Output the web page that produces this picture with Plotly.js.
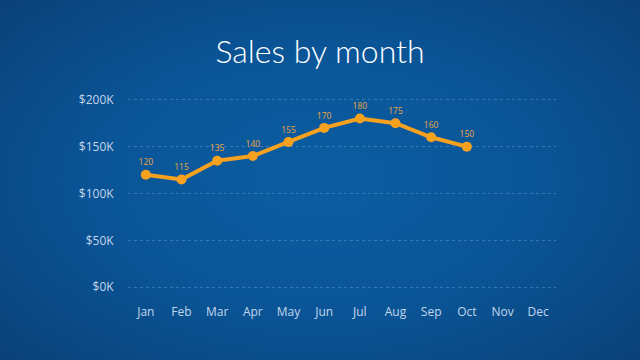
<!DOCTYPE html>
<html>
<head>
<meta charset="utf-8">
<script src="https://cdn.plot.ly/plotly-3.0.1.min.js"></script>
<style>
html,body{margin:0;padding:0;width:640px;height:360px;overflow:hidden;}
body{background: radial-gradient(ellipse 75% 80% at 50% 50%, #0b5da2 0%, #0a5597 45%, #0a4680 80%, #0a3c72 100%);}
#chart{width:640px;height:360px;}
</style>
</head>
<body>
<div id="chart"></div>
<script>
var months = ['Jan','Feb','Mar','Apr','May','Jun','Jul','Aug','Sep','Oct','Nov','Dec'];
var salesMonths = ['Jan','Feb','Mar','Apr','May','Jun','Jul','Aug','Sep','Oct'];
var salesK = [120,115,135,140,155,170,180,175,160,150];
var yTickVals = [0,50000,100000,150000,200000];
var yTickText = ['$0K','$50K','$100K','$150K','$200K'];

var trace = {
  x: salesMonths,
  y: salesK.map(function(v){return v*1000;}),
  text: salesK.map(String),
  type: 'scatter',
  mode: 'lines+markers+text',
  textposition: 'top center',
  textfont: {family: 'Open Sans, sans-serif', size: 8.5, color: '#eea640'},
  line: {color: '#f7a11f', width: 4},
  marker: {color: '#f7a11f', size: 10},
  cliponaxis: false,
  hoverinfo: 'none'
};

var layout = {
  width: 640, height: 360,
  paper_bgcolor: 'rgba(0,0,0,0)',
  plot_bgcolor: 'rgba(0,0,0,0)',
  margin: {l: 128, r: 84, t: 96, b: 69},
  showlegend: false,
  title: {text: 'Sales by month', x: 0.5, xanchor: 'center', y: 0.855, yanchor: 'middle',
          font: {family: 'Lato, sans-serif', size: 32, color: '#ffffff', weight: 300}},
  xaxis: {
    type: 'category', categoryorder: 'array', categoryarray: months,
    tickvals: months, ticktext: months,
    range: [-0.5, 11.5], showgrid: false, zeroline: false, showline: false,
    ticks: 'outside', ticklen: 10, tickcolor: 'rgba(0,0,0,0)',
    tickfont: {family: 'Open Sans, sans-serif', size: 12, color: '#c3d6ec'}
  },
  yaxis: {
    range: [-4000, 204000], tickvals: yTickVals, ticktext: yTickText,
    showgrid: true, gridcolor: 'rgba(170,200,235,0.3)', griddash: 'dot', gridwidth: 1,
    zeroline: false, showline: false,
    ticks: 'outside', ticklen: 11, tickcolor: 'rgba(0,0,0,0)',
    tickfont: {family: 'Open Sans, sans-serif', size: 12, color: '#c3d6ec'}
  }
};

Plotly.newPlot('chart', [trace], layout, {staticPlot: true, displayModeBar: false});
</script>
</body>
</html>
